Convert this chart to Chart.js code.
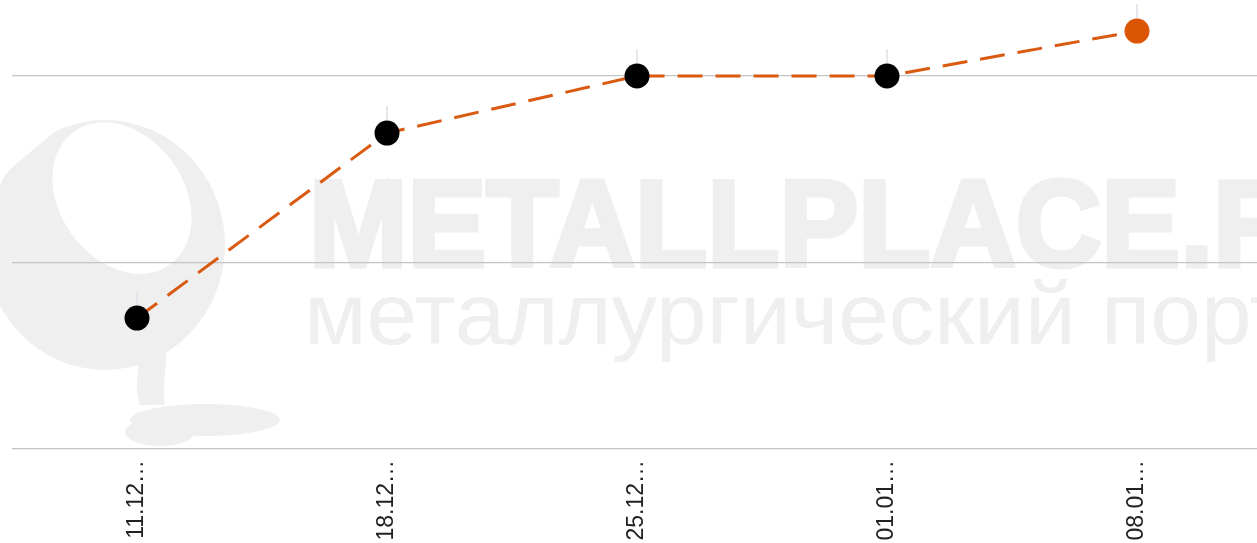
<!DOCTYPE html>
<html><head><meta charset="utf-8">
<script src="https://cdn.jsdelivr.net/npm/chart.js@4/dist/chart.umd.min.js"></script>
<style>
html,body{margin:0;padding:0;background:#fff;overflow:hidden;width:1257px;height:543px}
#c{position:absolute;left:0;top:0}
</style></head><body>
<canvas id="c" width="1262" height="543"></canvas>
<script>
// ---- data ----
const categories = ['11.12…', '18.12…', '25.12…', '01.01…', '08.01…'];
const values = [70.2, 169.4, 200, 200, 224.1];
const gridValues = [0, 100, 200];
const pointColors = ['#000000', '#000000', '#000000', '#000000', '#dc5505'];
const watermarkTitle = 'METALLPLACE.RU';
const watermarkTitleFit = 'METALLPLACE.';
const watermarkSub = 'металлургический портал';
const watermarkSubFit = 'металлургический ';

const WM = '#efefef';

const watermark = {
  id: 'watermark',
  beforeDraw(chart) {
    const ctx = chart.ctx;
    ctx.save();
    ctx.fillStyle = WM;
    // ladle logo (rough)
    ctx.beginPath();
    ctx.ellipse(105, 245, 120, 125, 0, 0, Math.PI * 2);
    ctx.fill();
    ctx.fillStyle = '#ffffff';
    ctx.beginPath();
    ctx.ellipse(122, 198, 82, 62, Math.PI * 0.3, 0, Math.PI * 2);
    ctx.fill();
    ctx.strokeStyle = '#ffffff';
    ctx.lineWidth = 4;
    ctx.beginPath();
    ctx.moveTo(0, 175); ctx.lineTo(56, 128);
    ctx.stroke();
    ctx.fillStyle = WM;
    // stream
    ctx.beginPath();
    ctx.moveTo(128, 330);
    ctx.bezierCurveTo(150, 355, 130, 375, 140, 405);
    ctx.lineTo(165, 405);
    ctx.bezierCurveTo(160, 375, 175, 350, 158, 325);
    ctx.closePath();
    ctx.fill();
    // puddle
    ctx.beginPath();
    ctx.ellipse(205, 420, 75, 16, 0, 0, Math.PI * 2);
    ctx.fill();
    ctx.beginPath();
    ctx.ellipse(160, 432, 35, 14, 0, 0, Math.PI * 2);
    ctx.fill();

    // title text
    ctx.fillStyle = WM;
    ctx.strokeStyle = WM;
    ctx.lineJoin = 'miter';
    ctx.textBaseline = 'alphabetic';
    ctx.textAlign = 'left';
    ctx.font = 'bold 122px "Liberation Sans", Arial, sans-serif';
    let w = ctx.measureText(watermarkTitleFit).width;
    ctx.save();
    ctx.translate(309, 266);
    ctx.scale(904 / w, 1);
    ctx.lineWidth = 5;
    ctx.fillText(watermarkTitle, 0, 0);
    ctx.strokeText(watermarkTitle, 0, 0);
    ctx.restore();
    ctx.font = '88px "Liberation Sans", Arial, sans-serif';
    w = ctx.measureText(watermarkSubFit).width;
    ctx.save();
    ctx.translate(304, 344);
    ctx.scale(797 / w, 1);
    ctx.fillText(watermarkSub, 0, 0);
    ctx.restore();
    ctx.restore();
  }
};

const whiskers = {
  id: 'whiskers',
  afterDatasetsDraw(chart) {
    const ctx = chart.ctx;
    const meta = chart.getDatasetMeta(0);
    ctx.save();
    ctx.strokeStyle = '#dde2e8';
    ctx.lineWidth = 1.5;
    meta.data.forEach(p => {
      ctx.beginPath();
      ctx.moveTo(p.x, p.y - 27);
      ctx.lineTo(p.x, p.y - 13);
      ctx.stroke();
    });
    ctx.restore();
  }
};

new Chart(document.getElementById('c'), {
  type: 'line',
  data: {
    labels: categories,
    datasets: [{
      data: values,
      borderColor: '#d95a10',
      borderWidth: 3,
      borderDash: [25, 13],
      tension: 0,
      fill: false,
      pointRadius: 12.5,
      pointHoverRadius: 12.5,
      pointBorderWidth: 0,
      pointBackgroundColor: pointColors,
      pointBorderColor: pointColors,
      clip: false
    }]
  },
  options: {
    responsive: false,
    animation: false,
    layout: { autoPadding: false, padding: { left: 12, right: 0, top: 0, bottom: 0 } },
    plugins: { legend: { display: false }, tooltip: { enabled: false } },
    scales: {
      x: {
        offset: true,
        grid: { display: false, drawTicks: false },
        border: { display: false },
        ticks: {
          autoSkip: false,
          minRotation: 90,
          maxRotation: 90,
          padding: 11,
          color: '#222222',
          font: { family: '"Liberation Sans", Arial, sans-serif', size: 23 }
        },
        afterFit(scale) { scale.height = 94; }
      },
      y: {
        min: 0,
        max: 240.75,
        grid: { color: '#c4c4c4', lineWidth: 1.2, drawTicks: false },
        border: { display: false },
        ticks: { display: false },
        afterBuildTicks(scale) { scale.ticks = gridValues.map(v => ({ value: v })); },
        afterFit(scale) { scale.width = 0; }
      }
    }
  },
  plugins: [watermark, whiskers]
});
</script>
</body></html>
